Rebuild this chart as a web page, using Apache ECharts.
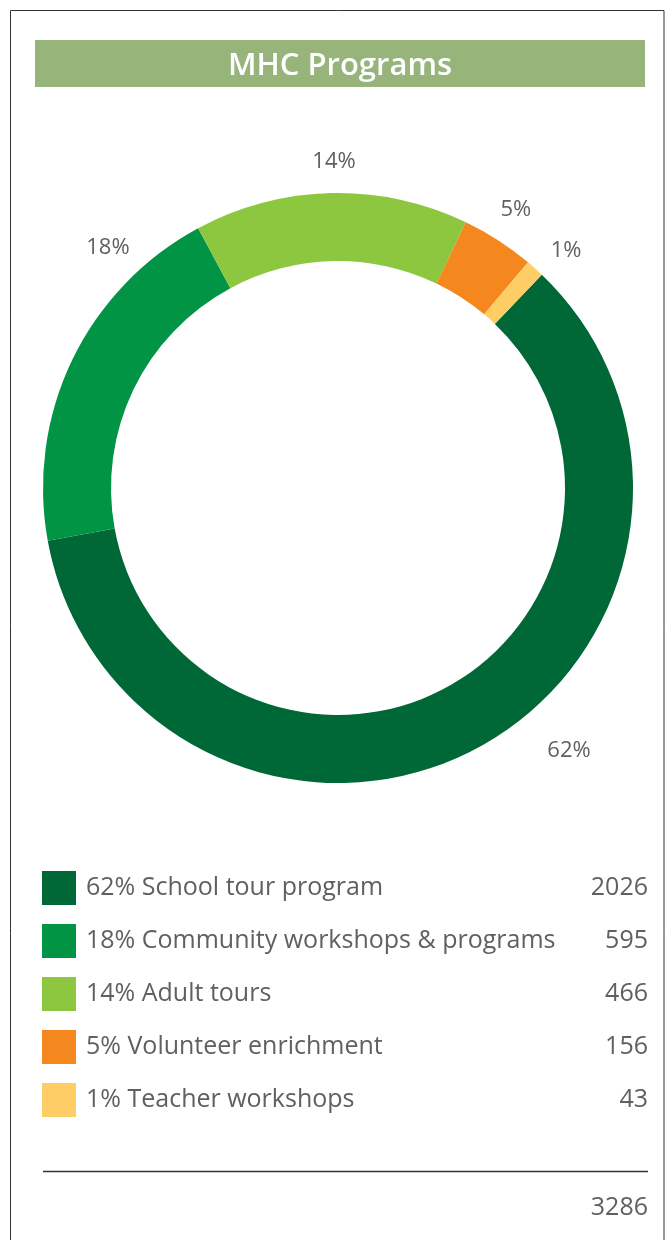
<!DOCTYPE html>
<html>
<head>
<meta charset="utf-8">
<script src="https://cdn.jsdelivr.net/npm/echarts@6/dist/echarts.min.js"></script>
<style>
  html, body { margin: 0; padding: 0; background: #ffffff; }
  #chart { width: 667px; height: 1240px; }
</style>
</head>
<body>
<div id="chart"></div>
<script>
// ---- data ----
const title = 'MHC Programs';
const categories = ['School tour program', 'Community workshops & programs', 'Adult tours', 'Volunteer enrichment', 'Teacher workshops'];
const counts = [2026, 595, 466, 156, 43];
// slice sizes as drawn in the picture (share of the ring, %)
const sliceShares = [60, 20, 15, 4, 1];
const colors = ['#006837', '#009444', '#8dc63f', '#f5871f', '#ffcd66'];

// ---- derived ----
const total = counts.reduce((a, b) => a + b, 0);
const percents = counts.map(v => Math.round(v / total * 100));

// ---- layout (style) ----
const CX = 338, CY = 488;
const LABEL_POLAR = [[350, -48.7], [333, 133.7], [326, 90.7], [330, 57.4], [329, 46.1]];
const TEXT = '#606060';
const FONT = '"Open Sans"';
const FS = 25;

const chart = echarts.init(document.getElementById('chart'), null, { renderer: 'canvas' });

const option = {
  backgroundColor: '#ffffff',
  animation: false,
  color: colors,
  legend: {
    orient: 'vertical',
    left: 42,
    top: 871,
    padding: 0,
    itemWidth: 34,
    itemHeight: 34,
    itemGap: 19,
    icon: 'rect',
    selectedMode: false,
    data: categories,
    formatter: function (name) {
      const i = categories.indexOf(name);
      return '{s|}{n|' + percents[i] + '% ' + name + '}{v|' + counts[i] + '}';
    },
    textStyle: {
      color: TEXT,
      fontFamily: FONT,
      fontSize: FS,
      rich: {
        s: { width: 5, lineHeight: 34 },
        n: { width: 480, align: 'left', fontSize: FS, fontFamily: FONT, color: TEXT, lineHeight: 34 },
        v: { width: 82, align: 'right', fontSize: FS, fontFamily: FONT, color: TEXT, lineHeight: 34 }
      }
    }
  },
  series: [{
    type: 'pie',
    center: [CX, CY],
    radius: [227, 295],
    startAngle: 46.3,
    clockwise: true,
    avoidLabelOverlap: false,
    label: {
      show: true,
      position: 'outside',
      color: TEXT,
      fontFamily: FONT,
      fontSize: 22,
      formatter: function (p) { return percents[p.dataIndex] + '%'; }
    },
    labelLine: { show: false },
    labelLayout: function (p) {
      const lp = LABEL_POLAR[p.dataIndex];
      const a = lp[1] * Math.PI / 180;
      return {
        x: CX + lp[0] * Math.cos(a),
        y: CY - lp[0] * Math.sin(a),
        align: 'center',
        verticalAlign: 'middle'
      };
    },
    emphasis: { disabled: true },
    data: categories.map((c, i) => ({ name: c, value: sliceShares[i] }))
  }],
  graphic: [
    {
      type: 'rect', z: -1, silent: true,
      shape: { x: 10.5, y: 10.5, width: 653.5, height: 1240 },
      style: { fill: 'none', stroke: '#333333', lineWidth: 1 }
    },
    {
      type: 'rect', silent: true,
      shape: { x: 35, y: 40, width: 610, height: 47 },
      style: { fill: '#97b57b' }
    },
    {
      type: 'text', silent: true,
      x: 340, y: 66,
      style: {
        text: title,
        fill: '#ffffff',
        font: '600 31px ' + FONT,
        align: 'center',
        verticalAlign: 'middle'
      }
    },
    {
      type: 'line', silent: true,
      shape: { x1: 43, y1: 1171.5, x2: 648, y2: 1171.5 },
      style: { stroke: '#333333', lineWidth: 1.5 }
    },
    {
      type: 'text', silent: true,
      x: 648, y: 1208,
      style: {
        text: String(total),
        fill: TEXT,
        font: FS + 'px ' + FONT,
        align: 'right',
        verticalAlign: 'middle'
      }
    }
  ]
};

chart.setOption(option);
</script>
</body>
</html>
